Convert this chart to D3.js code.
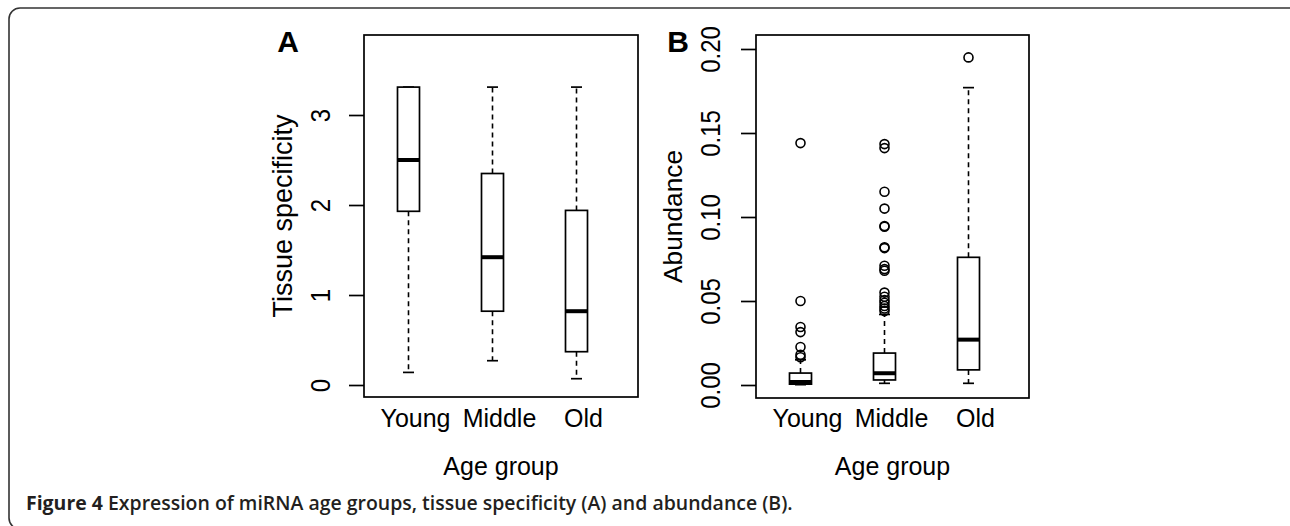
<!DOCTYPE html>
<html>
<head>
<meta charset="utf-8">
<script src="https://cdn.jsdelivr.net/npm/d3@7"></script>
<style>
  html, body { margin: 0; padding: 0; background: #fff; }
  svg { display: block; }
</style>
</head>
<body>
<svg id="chart" width="1290" height="526"></svg>
<script>
// ---------- data ----------
const groups = ["Young", "Middle", "Old"];

// Panel A: tissue specificity (box statistics per group)
const tsLower  = [0.14, 0.27, 0.07];
const tsQ1     = [1.93, 0.82, 0.37];
const tsMedian = [2.50, 1.42, 0.82];
const tsQ3     = [3.31, 2.35, 1.94];
const tsUpper  = [3.31, 3.31, 3.31];
const tsTicks  = [0, 1, 2, 3];
const tsTickLabels = ["0", "1", "2", "3"];

// Panel B: abundance
const abLower  = [0.0002, 0.001, 0.001];
const abQ1     = [0.0005, 0.003, 0.009];
const abMedian = [0.0018, 0.007, 0.027];
const abQ3     = [0.0071, 0.019, 0.076];
const abUpper  = [0.015, 0.042, 0.177];
const abOutYoung  = [0.144, 0.050, 0.0345, 0.0315, 0.0226, 0.018, 0.0165];
const abOutMiddle = [0.1434, 0.141, 0.115, 0.105, 0.0946, 0.0942, 0.082, 0.0815,
                     0.071, 0.069, 0.068, 0.055, 0.0525, 0.0505, 0.049, 0.047, 0.0455, 0.044];
const abOutOld    = [0.195];
const abTicks  = [0, 0.05, 0.10, 0.15, 0.20];
const abTickLabels = ["0.00", "0.05", "0.10", "0.15", "0.20"];

const xTitle = "Age group";
const yTitleA = "Tissue specificity";
const yTitleB = "Abundance";
const panelLetters = ["A", "B"];
const captionBold = "Figure 4";
const captionRest = " Expression of miRNA age groups, tissue specificity (A) and abundance (B).";

// ---------- drawing ----------
const svg = d3.select("#chart");
svg.append("rect").attr("width", 1290).attr("height", 526).attr("fill", "#fff");

// outer frame (rounded)
svg.append("rect")
  .attr("x", 9).attr("y", 8).attr("width", 1300).attr("height", 521)
  .attr("rx", 11).attr("ry", 11)
  .attr("fill", "none").attr("stroke", "#333").attr("stroke-width", 1.6);

const FONT = "'Liberation Sans', Arial, Helvetica, sans-serif";

function panel(opt) {
  const g = svg.append("g");
  const { left, right, top, bottom } = opt.box;
  const y = d3.scaleLinear().domain(opt.domain).range([bottom, top]);
  const x = d3.scalePoint().domain(groups).range([left + 44.5, left + 212.5]);
  const bw = 22;

  // frame
  g.append("rect").attr("x", left).attr("y", top)
    .attr("width", right - left).attr("height", bottom - top)
    .attr("fill", "none").attr("stroke", "#000").attr("stroke-width", 1.7);

  // y axis
  const axis = d3.axisLeft(y).tickValues(opt.ticks).tickSize(15)
    .tickFormat((d, i) => opt.tickLabels[i]);
  const ax = g.append("g").attr("transform", `translate(${left},0)`).call(axis);
  ax.select(".domain").remove();
  ax.selectAll(".tick line").attr("stroke", "#000").attr("stroke-width", 1.7);
  ax.selectAll(".tick text")
    .attr("x", null).attr("dy", null)
    .attr("transform", `translate(${-opt.tickLabelOffset},0) rotate(-90) scale(1,1.15)`)
    .attr("text-anchor", "middle")
    .attr("font-family", FONT).attr("font-size", 24).attr("fill", "#000");

  // boxes
  groups.forEach((gname, i) => {
    const cx = x(gname);
    const s = opt.stats;
    const dash = "5,4";
    // whiskers
    if (s.upper[i] > s.q3[i]) {
      g.append("line").attr("x1", cx).attr("x2", cx)
        .attr("y1", y(s.q3[i])).attr("y2", y(s.upper[i]))
        .attr("stroke", "#000").attr("stroke-width", 1.6).attr("stroke-dasharray", dash);
    }
    g.append("line").attr("x1", cx).attr("x2", cx)
      .attr("y1", y(s.q1[i])).attr("y2", y(s.lower[i]))
      .attr("stroke", "#000").attr("stroke-width", 1.6).attr("stroke-dasharray", dash);
    // staples
    [s.upper[i], s.lower[i]].forEach(v => {
      g.append("line").attr("x1", cx - bw / 4).attr("x2", cx + bw / 4)
        .attr("y1", y(v)).attr("y2", y(v))
        .attr("stroke", "#000").attr("stroke-width", 1.7);
    });
    // box
    g.append("rect").attr("x", cx - bw / 2).attr("width", bw)
      .attr("y", y(s.q3[i])).attr("height", y(s.q1[i]) - y(s.q3[i]))
      .attr("fill", "#fff").attr("stroke", "#000").attr("stroke-width", 1.7);
    // median
    g.append("line").attr("x1", cx - bw / 2).attr("x2", cx + bw / 2)
      .attr("y1", y(s.median[i])).attr("y2", y(s.median[i]))
      .attr("stroke", "#000").attr("stroke-width", 4);
    // outliers
    (opt.outliers ? opt.outliers[i] : []).forEach(v => {
      g.append("circle").attr("cx", cx).attr("cy", y(v)).attr("r", 4.5)
        .attr("fill", "none").attr("stroke", "#000").attr("stroke-width", 1.6);
    });
    // x label
    g.append("text").attr("x", cx + 7).attr("y", 427)
      .attr("text-anchor", "middle").attr("font-family", FONT).attr("font-size", 25)
      .attr("fill", "#000").text(gname);
  });

  // x title
  g.append("text").attr("x", (left + right) / 2).attr("y", 475)
    .attr("text-anchor", "middle").attr("font-family", FONT).attr("font-size", 25)
    .attr("fill", "#000").text(xTitle);

  // y title
  g.append("text")
    .attr("transform", `translate(${opt.yTitleX},${(top + bottom) / 2}) rotate(-90)`)
    .attr("text-anchor", "middle").attr("font-family", FONT).attr("font-size", opt.yTitleSize)
    .attr("fill", "#000").text(opt.yTitle);

  // panel letter
  g.append("text").attr("x", opt.letterX).attr("y", 52)
    .attr("text-anchor", "middle").attr("font-family", FONT).attr("font-size", 30)
    .attr("font-weight", "bold").attr("fill", "#000").text(opt.letter);
}

panel({
  box: { left: 364, right: 638, top: 35, bottom: 397 },
  domain: [-0.1333, 3.8889],
  ticks: tsTicks, tickLabels: tsTickLabels, tickLabelOffset: 34,
  stats: { lower: tsLower, q1: tsQ1, median: tsMedian, q3: tsQ3, upper: tsUpper },
  outliers: null,
  yTitle: yTitleA, yTitleX: 292, yTitleSize: 27,
  letter: panelLetters[0], letterX: 288
});

panel({
  box: { left: 756, right: 1029, top: 35, bottom: 398 },
  domain: [-0.00774, 0.20833],
  ticks: abTicks, tickLabels: abTickLabels, tickLabelOffset: 36,
  stats: { lower: abLower, q1: abQ1, median: abMedian, q3: abQ3, upper: abUpper },
  outliers: [abOutYoung, abOutMiddle, abOutOld],
  yTitle: yTitleB, yTitleX: 682, yTitleSize: 26.3,
  letter: panelLetters[1], letterX: 678
});

// caption
const cap = svg.append("text").attr("x", 26).attr("y", 510)
  .attr("font-family", "'Open Sans', 'Noto Sans', sans-serif")
  .attr("font-size", 16).attr("fill", "#231f20");
cap.append("tspan").attr("font-weight", 700).text(captionBold);
cap.append("tspan").attr("font-weight", 600).text(captionRest);
const targetW = 767;
const w = cap.node().getComputedTextLength();
cap.attr("font-size", 16 * targetW / w);
</script>
</body>
</html>
